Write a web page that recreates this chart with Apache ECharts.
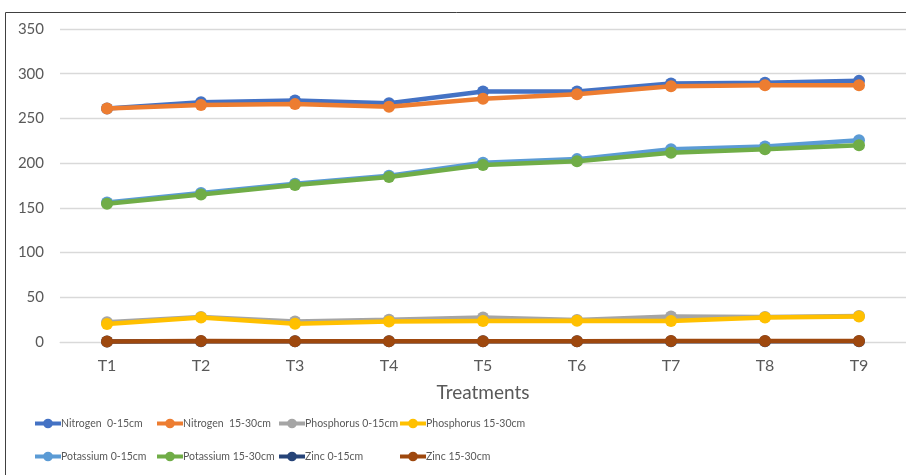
<!DOCTYPE html>
<html>
<head>
<meta charset="utf-8">
<script src="https://cdn.jsdelivr.net/npm/echarts@6/dist/echarts.min.js"></script>
<style>html,body{margin:0;padding:0;background:#fff}#c{width:906px;height:475px}</style>
</head>
<body>
<div id="c"></div>
<script>
const categories = ['T1','T2','T3','T4','T5','T6','T7','T8','T9'];
const yTicks = [0,50,100,150,200,250,300,350];
const seriesNames = ['Nitrogen  0-15cm','Nitrogen  15-30cm','Phosphorus 0-15cm','Phosphorus 15-30cm','Potassium 0-15cm','Potassium 15-30cm','Zinc 0-15cm','Zinc 15-30cm'];
const nitrogen0_15   = [261, 268, 270, 267, 280, 280, 289, 290, 292];
const nitrogen15_30  = [261, 265, 266, 263, 272, 277, 286, 287, 287];
const phosphorus0_15 = [22, 28, 23, 25, 27.5, 24.5, 28.5, 28, 29];
const phosphorus15_30= [20, 27.5, 20.5, 23, 23.5, 23.8, 23.5, 27.5, 28.6];
const potassium0_15  = [156, 166.5, 177, 186, 200.5, 204.5, 215.5, 218.5, 225.5];
const potassium15_30 = [154.5, 165, 175.5, 184.5, 198, 202, 211.5, 215.5, 220];
const zinc0_15       = [0.6, 0.9, 0.8, 0.8, 0.9, 0.8, 0.9, 0.9, 0.9];
const zinc15_30      = [0.5, 1.0, 0.9, 0.9, 0.9, 0.9, 1.0, 1.0, 1.0];
const colors = ['#4472C4','#ED7D31','#A5A5A5','#FFC000','#5B9BD5','#70AD47','#264478','#9E480E'];
const allData = [nitrogen0_15,nitrogen15_30,phosphorus0_15,phosphorus15_30,potassium0_15,potassium15_30,zinc0_15,zinc15_30];

const FONT = 'Lato, sans-serif';
const chart = echarts.init(document.getElementById('c'), null, {renderer:'canvas'});
const legendCols = [33, 155, 277, 398];
const legendRows = [418, 451];
const legends = seriesNames.map((n,i)=>({
  data:[n],
  left: legendCols[i%4],
  top: legendRows[Math.floor(i/4)],
  itemWidth: 26, itemHeight: 12, itemGap: 0,
  padding: 0,
  lineStyle:{width:4},
  textStyle:{color:'#595959', fontSize:10.5, fontFamily:FONT, padding:[0,0,0,-5]}
}));
chart.setOption({
  animation:false,
  color: colors,
  graphic:[{type:'rect', shape:{x:5.5,y:12.5,width:1200,height:1200}, style:{fill:'none', stroke:'#404040', lineWidth:1}, silent:true}],
  legend: legends,
  grid:{left:60, right:-11, top:29, bottom:133, containLabel:false},
  xAxis:{
    type:'category', data:categories, boundaryGap:true,
    name:'Treatments', nameLocation:'middle', nameGap:41,
    nameTextStyle:{color:'#595959', fontSize:19, fontFamily:FONT},
    axisLine:{show:true, lineStyle:{color:'#D9D9D9', width:1}},
    axisTick:{show:false},
    axisLabel:{color:'#595959', fontSize:16, fontFamily:FONT, margin:16}
  },
  yAxis:{
    type:'value', min:yTicks[0], max:yTicks[yTicks.length-1], interval:50,
    axisLine:{show:false}, axisTick:{show:false},
    splitLine:{lineStyle:{color:'#D9D9D9', width:1.3}},
    axisLabel:{color:'#595959', fontSize:15, fontFamily:FONT, margin:16}
  },
  series: seriesNames.map((n,i)=>({
    name:n, type:'line', data:allData[i],
    symbol:'circle', symbolSize:12,
    lineStyle:{width:4.5, color:colors[i]},
    itemStyle:{color:colors[i]},
    z: 2+i
  }))
});
</script>
</body>
</html>
